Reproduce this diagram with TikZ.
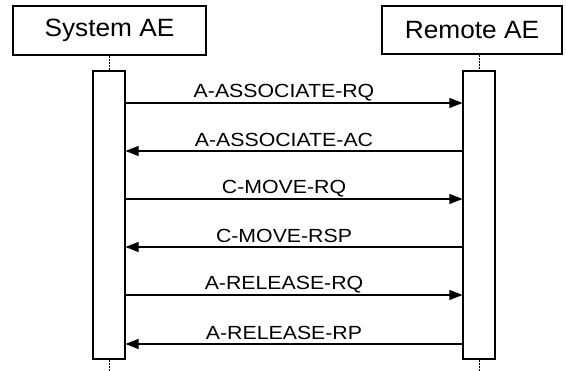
\documentclass[tikz,border=0pt]{standalone}
\usepackage{fontspec}
\setmainfont{Liberation Sans}
\newfontfamily\msgfont[FakeStretch=1.12]{Liberation Sans}
\newfontfamily\boxfont[FakeStretch=1.05]{Liberation Sans}
\usetikzlibrary{arrows.meta}
\begin{document}
\begin{tikzpicture}[x=1pt,y=-1pt,
  actor/.style={draw=black,line width=1.2pt,inner sep=0pt,font=\boxfont\fontsize{25}{28}\selectfont},
  bar/.style={draw=black,line width=1.1pt,fill=white,inner sep=0pt,minimum width=32pt,minimum height=288pt},
  msg/.style={line width=1.1pt,-{Triangle[length=13pt,width=10pt]}},
  lbl/.style={font=\msgfont\fontsize{19}{20}\selectfont,anchor=base,inner sep=0pt},
  life/.style={line width=0.8pt,dash pattern=on 2pt off 1pt}]
\useasboundingbox[fill=white] (0,0) rectangle (566,371);
% actors
\node[actor,minimum width=193pt,minimum height=49pt] (sys) at (109.5,30.5) {System AE};
\node[actor,minimum width=180pt,minimum height=48pt] (rem) at (472,30) {Remote AE};
% activation bars
\node[bar] (sysbar) at (109,215) {};
\node[bar] (rembar) at (479,215) {};
% lifelines
\coordinate (sysend) at (109,371);
\coordinate (remend) at (479,371);
\draw[life] (sys.south -| sysbar.north) -- (sysbar.north);
\draw[life] (rem.south -| rembar.north) -- (rembar.north);
\draw[life] (sysbar.south) -- (sysend);
\draw[life] (rembar.south) -- (remend);
% requests (System -> Remote)
\foreach \y/\t in {103/A-ASSOCIATE-RQ,199/C-MOVE-RQ,295/A-RELEASE-RQ}{
  \draw[msg] (sysbar.east |- 0,\y) -- (rembar.west |- 0,\y);
  \node[lbl] at (284,\y-5) {\t};
}
% responses (Remote -> System)
\foreach \y/\t in {151/A-ASSOCIATE-AC,247/C-MOVE-RSP,344/A-RELEASE-RP}{
  \draw[msg] (rembar.west |- 0,\y) -- (sysbar.east |- 0,\y);
  \node[lbl] at (284,\y-4) {\t};
}
\end{tikzpicture}
\end{document}
